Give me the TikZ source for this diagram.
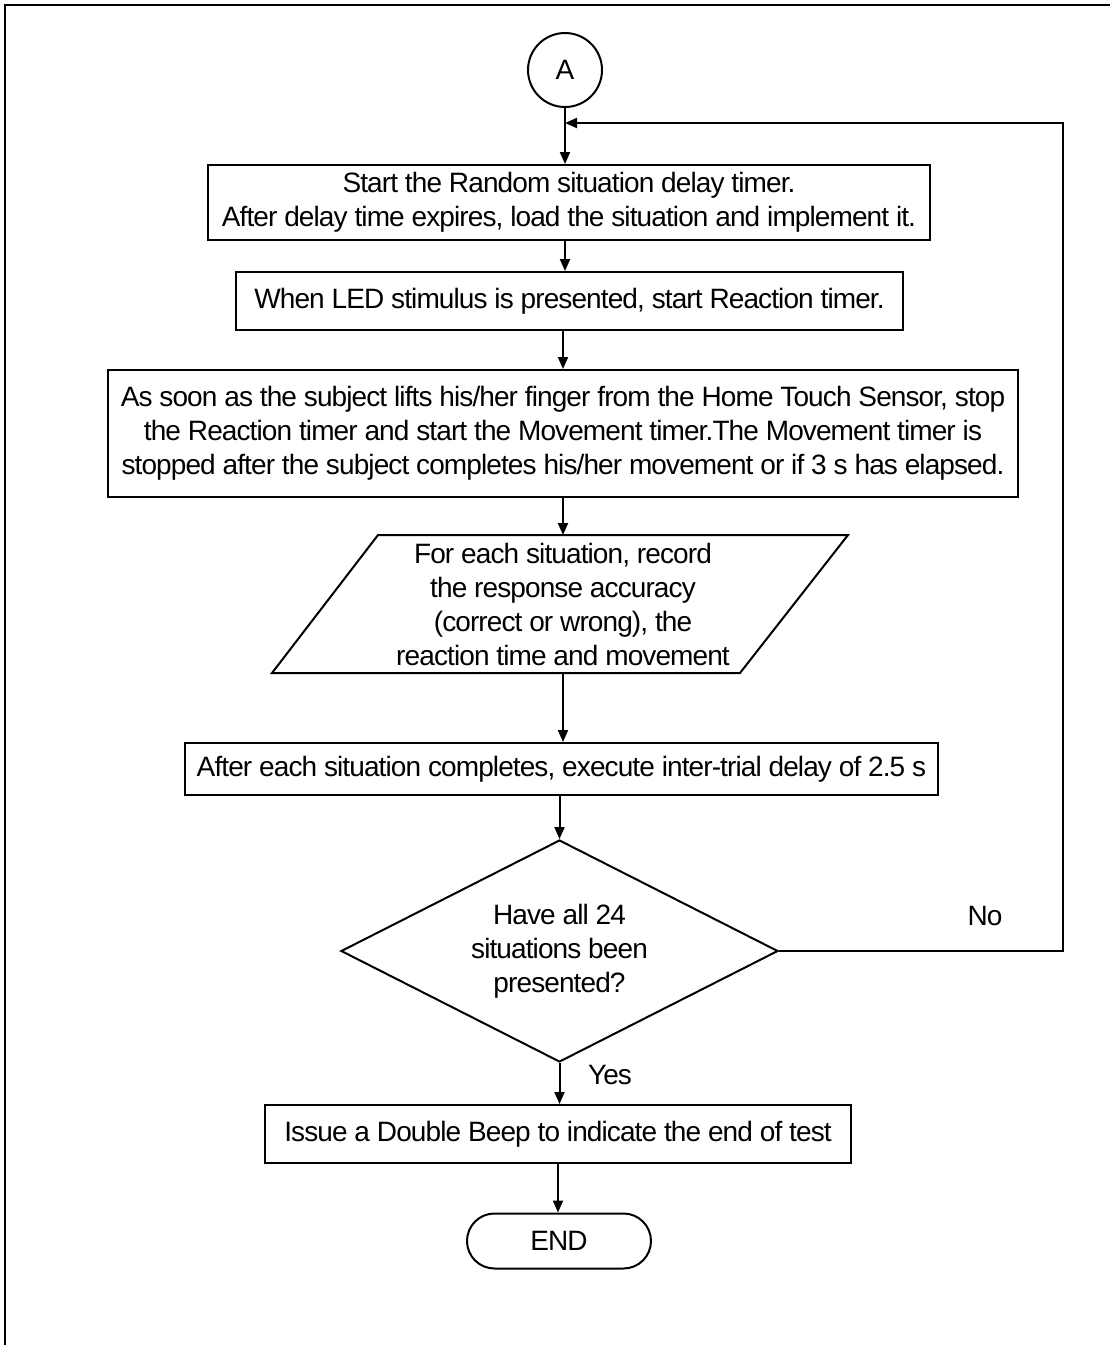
\documentclass[tikz,border=0pt]{standalone}
\usepackage{fontspec}
\setmainfont{Liberation Sans}[LetterSpace=-3.2]
\usetikzlibrary{arrows.meta,shapes.geometric}

\begin{document}
\begin{tikzpicture}[x=1pt,y=-1pt,
  every node/.style={font=\fontsize{28}{34}\selectfont, inner sep=0pt},
  box/.style={draw, line width=2pt, align=center},
  link/.style={line width=2pt},
  flow/.style={link, -{Triangle[length=12pt,width=10pt]}},
  frame/.style={line width=2.8pt}]

\useasboundingbox (0,0) rectangle (1110,1345);
% page frame (only top and left edges are shown)
\draw[frame] (1110,5) -- (5,5) -- (5,1345);

% connector
\node[circle, draw, line width=2pt, minimum size=74pt] (A) at (565,70) {A};

% process steps
\node[box, minimum width=722pt, minimum height=75pt] (S1) at (569,202.5)
  {Start the Random situation delay timer.\\After delay time expires, load the situation and implement it.};
\node[box, minimum width=667pt, minimum height=58pt] (S2) at (569.5,301)
  {When LED stimulus is presented, start Reaction timer.};
\node[box, minimum width=910pt, minimum height=127pt] (S3) at (563,433.5)
  {As soon as the subject lifts his/her finger from the Home Touch Sensor, stop\\
   the Reaction timer and start the Movement timer.The Movement timer is\\
   stopped after the subject completes his/her movement or if 3 s has elapsed.};

% data (parallelogram)
\coordinate (pTL) at (378,535);
\coordinate (pTR) at (848,535);
\coordinate (pBR) at (740,673);
\coordinate (pBL) at (272,673);
\coordinate (pTop) at (563,535);
\coordinate (pBot) at (563,673);
\draw[link, line join=miter] (pTL) -- (pTR) -- (pBR) -- (pBL) -- cycle;
\node[align=center] (S4) at (563,604)
  {For each situation, record\\the response accuracy\\(correct or wrong), the\\reaction time and movement};

\node[box, minimum width=753pt, minimum height=52pt] (S5) at (561.5,769)
  {After each situation completes, execute inter-trial delay of 2.5 s};

% decision
\node[diamond, draw, line width=2pt, aspect=2, align=center,
      minimum width=437pt, minimum height=222pt] (D) at (559.5,951)
  {Have all 24\\situations been\\presented?};

\node[box, minimum width=586pt, minimum height=58pt] (S6) at (558,1134)
  {Issue a Double Beep to indicate the end of test};

% terminator
\node[box, rounded corners=27.5pt, minimum width=184pt, minimum height=55pt] (E) at (559,1241) {END};

% branch labels
\node (no) at (985,916) {No};
\node (yes) at (610,1075) {Yes};

% flow lines
\coordinate (R) at (1063,123);
\draw[flow] (A.south) -- (A.south |- S1.north);
\draw[flow] (S1.south -| A.south) -- (A.south |- S2.north);
\draw[flow] (S2.south -| S3.north) -- (S3.north);
\draw[flow] (S3.south) -- (S3.south |- pTop);
\draw[flow] (pBot) -- (pBot |- S5.north);
\draw[flow] (S5.south -| D.north) -- (D.north);
\draw[flow] (D.south) -- (D.south |- S6.north);
\draw[flow] (S6.south) -- (S6.south |- E.north);
\draw[flow] (D.east) -| (R) -- (R -| A.south);
\end{tikzpicture}
\end{document}
